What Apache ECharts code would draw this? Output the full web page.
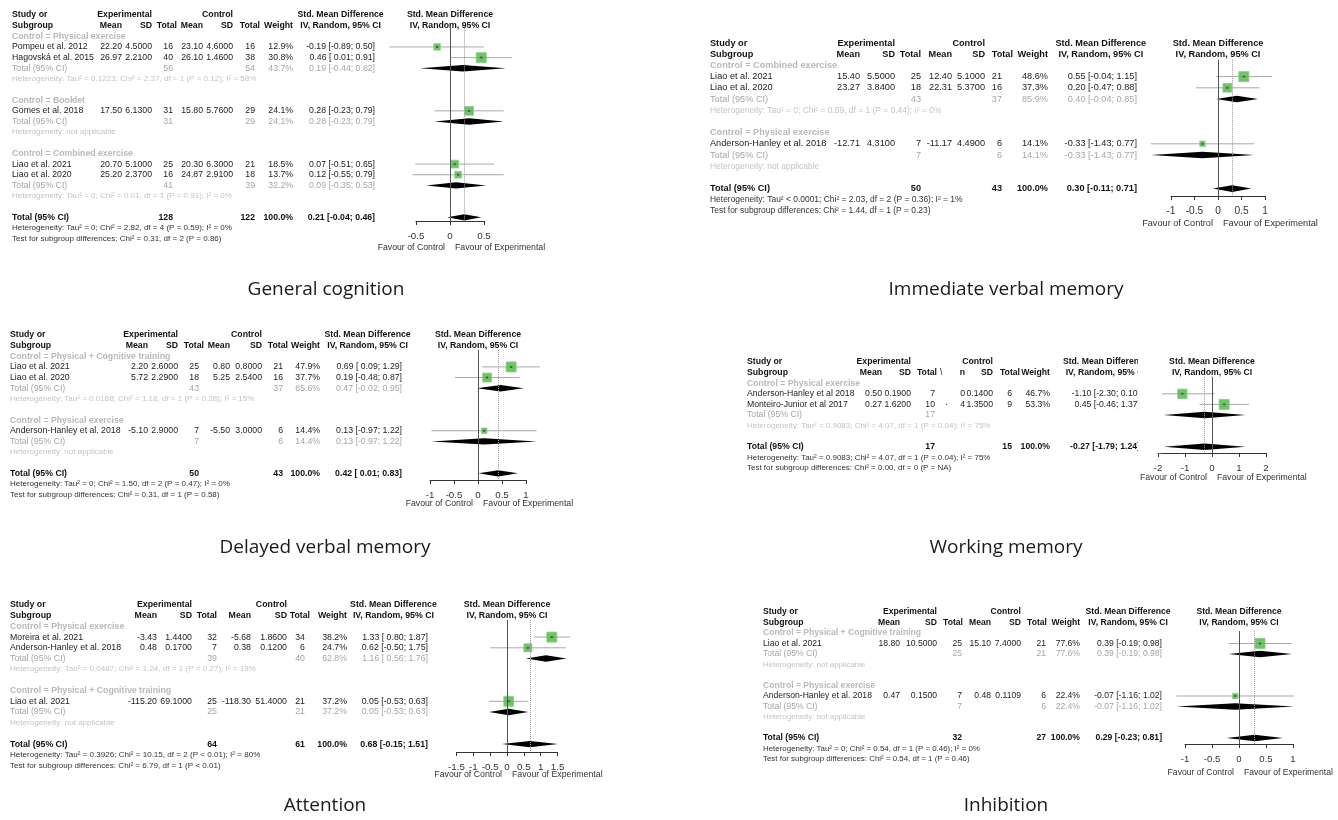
<!DOCTYPE html>
<html>
<head>
<meta charset="utf-8">
<script src="https://cdn.jsdelivr.net/npm/echarts@6/dist/echarts.min.js"></script>
<style>
html, body { margin: 0; background: #fff; }
#chart { width: 1338px; height: 820px; }
</style>
</head>
<body>
<div id="chart"></div>
<script>
// ---- General cognition
var gcGroups = ['Control = Physical exercise', 'Control = Booklet', 'Control = Combined exercise'];
var gcNames = ['Pompeu et al. 2012', 'Hagovská et al. 2015', 'Gomes et al. 2018', 'Liao et al. 2021', 'Liao et al. 2020'];
var gcGroupOf = [0, 0, 1, 2, 2];
var gcExp = [['22.20', '4.5000', 16], ['26.97', '2.2100', 40], ['17.50', '6.1300', 31], ['20.70', '5.1000', 25], ['25.20', '2.3700', 16]];
var gcCtl = [['23.10', '4.6000', 16], ['26.10', '1.4600', 38], ['15.80', '5.7600', 29], ['20.30', '6.3000', 21], ['24.87', '2.9100', 18]];
var gcWeight = [12.9, 30.8, 24.1, 18.5, 13.7];
var gcSmd = [[-0.19, -0.89, 0.50], [0.46, 0.01, 0.91], [0.28, -0.23, 0.79], [0.07, -0.51, 0.65], [0.12, -0.55, 0.79]];
var gcSub = [[56, 54, 43.7, 0.19, -0.44, 0.82], [31, 29, 24.1, 0.28, -0.23, 0.79], [41, 39, 32.2, 0.09, -0.35, 0.53]];
var gcSubHet = ['Heterogeneity: Tau² = 0.1223; Chi² = 2.37, df = 1 (P = 0.12); I² = 58%', 'Heterogeneity: not applicable', 'Heterogeneity: Tau² = 0; Chi² = 0.01, df = 1 (P = 0.91); I² = 0%'];
var gcTotal = [128, 122, 100.0, 0.21, -0.04, 0.46];
var gcNotes = ['Heterogeneity: Tau² = 0; Chi² = 2.82, df = 4 (P = 0.59); I² = 0%', 'Test for subgroup differences: Chi² = 0.31, df = 2 (P = 0.86)'];
var gcTicks = [-0.5, 0, 0.5];

// ---- Immediate verbal memory
var ivGroups = ['Control = Combined exercise', 'Control = Physical exercise'];
var ivNames = ['Liao et al. 2021', 'Liao et al. 2020', 'Anderson-Hanley et al. 2018'];
var ivGroupOf = [0, 0, 1];
var ivExp = [['15.40', '5.5000', 25], ['23.27', '3.8400', 18], ['-12.71', '4.3100', 7]];
var ivCtl = [['12.40', '5.1000', 21], ['22.31', '5.3700', 16], ['-11.17', '4.4900', 6]];
var ivWeight = [48.6, 37.3, 14.1];
var ivSmd = [[0.55, -0.04, 1.15], [0.20, -0.47, 0.88], [-0.33, -1.43, 0.77]];
var ivSub = [[43, 37, 85.9, 0.40, -0.04, 0.85], [7, 6, 14.1, -0.33, -1.43, 0.77]];
var ivSubHet = ['Heterogeneity: Tau² = 0; Chi² = 0.59, df = 1 (P = 0.44); I² = 0%', 'Heterogeneity: not applicable'];
var ivTotal = [50, 43, 100.0, 0.30, -0.11, 0.71];
var ivNotes = ['Heterogeneity: Tau² < 0.0001; Chi² = 2.03, df = 2 (P = 0.36); I² = 1%', 'Test for subgroup differences: Chi² = 1.44, df = 1 (P = 0.23)'];
var ivTicks = [-1, -0.5, 0, 0.5, 1];

// ---- Delayed verbal memory
var dvGroups = ['Control = Physical + Cognitive training', 'Control = Physical exercise'];
var dvNames = ['Liao et al. 2021', 'Liao et al. 2020', 'Anderson-Hanley et al. 2018'];
var dvGroupOf = [0, 0, 1];
var dvExp = [['2.20', '2.6000', 25], ['5.72', '2.2900', 18], ['-5.10', '2.9000', 7]];
var dvCtl = [['0.80', '0.8000', 21], ['5.25', '2.5400', 16], ['-5.50', '3.0000', 6]];
var dvWeight = [47.9, 37.7, 14.4];
var dvSmd = [[0.69, 0.09, 1.29], [0.19, -0.48, 0.87], [0.13, -0.97, 1.22]];
var dvSub = [[43, 37, 85.6, 0.47, -0.02, 0.95], [7, 6, 14.4, 0.13, -0.97, 1.22]];
var dvSubHet = ['Heterogeneity: Tau² = 0.0188; Chi² = 1.18, df = 1 (P = 0.28); I² = 15%', 'Heterogeneity: not applicable'];
var dvTotal = [50, 43, 100.0, 0.42, 0.01, 0.83];
var dvNotes = ['Heterogeneity: Tau² = 0; Chi² = 1.50, df = 2 (P = 0.47); I² = 0%', 'Test for subgroup differences: Chi² = 0.31, df = 1 (P = 0.58)'];
var dvTicks = [-1, -0.5, 0, 0.5, 1];

// ---- Working memory
var wmGroups = ['Control = Physical exercise'];
var wmNames = ['Anderson-Hanley et al 2018', 'Monteiro-Junior et al 2017'];
var wmGroupOf = [0, 0];
var wmExp = [['0.50', '0.1900', 7], ['0.27', '1.6200', 10]];
var wmCtl = [['0', '0.1400', 6], ['4', '1.3500', 9]];
var wmWeight = [46.7, 53.3];
var wmSmd = [[-1.10, -2.30, 0.10], [0.45, -0.46, 1.37]];
var wmSub = [[17, null, null, -0.27, -1.79, 1.24]];
var wmSubHet = ['Heterogeneity: Tau² = 0.9083; Chi² = 4.07, df = 1 (P = 0.04); I² = 75%'];
var wmTotal = [17, 15, 100.0, -0.27, -1.79, 1.24];
var wmNotes = ['Heterogeneity: Tau² = 0.9083; Chi² = 4.07, df = 1 (P = 0.04); I² = 75%', 'Test for subgroup differences: Chi² = 0.00, df = 0 (P = NA)'];
var wmTicks = [-2, -1, 0, 1, 2];

// ---- Attention
var atGroups = ['Control = Physical exercise', 'Control = Physical + Cognitive training'];
var atNames = ['Moreira et al. 2021', 'Anderson-Hanley et al. 2018', 'Liao et al. 2021'];
var atGroupOf = [0, 0, 1];
var atExp = [['-3.43', '1.4400', 32], ['0.48', '0.1700', 7], ['-115.20', '69.1000', 25]];
var atCtl = [['-5.68', '1.8600', 34], ['0.38', '0.1200', 6], ['-118.30', '51.4000', 21]];
var atWeight = [38.2, 24.7, 37.2];
var atSmd = [[1.33, 0.80, 1.87], [0.62, -0.50, 1.75], [0.05, -0.53, 0.63]];
var atSub = [[39, 40, 62.8, 1.16, 0.56, 1.76], [25, 21, 37.2, 0.05, -0.53, 0.63]];
var atSubHet = ['Heterogeneity: Tau² = 0.0487; Chi² = 1.24, df = 1 (P = 0.27); I² = 19%', 'Heterogeneity: not applicable'];
var atTotal = [64, 61, 100.0, 0.68, -0.15, 1.51];
var atNotes = ['Heterogeneity: Tau² = 0.3926; Chi² = 10.15, df = 2 (P < 0.01); I² = 80%', 'Test for subgroup differences: Chi² = 6.79, df = 1 (P < 0.01)'];
var atTicks = [-1.5, -1, -0.5, 0, 0.5, 1, 1.5];

// ---- Inhibition
var ihGroups = ['Control = Physical + Cognitive training', 'Control = Physical exercise'];
var ihNames = ['Liao et al. 2021', 'Anderson-Hanley et al. 2018'];
var ihGroupOf = [0, 1];
var ihExp = [['18.80', '10.5000', 25], ['0.47', '0.1500', 7]];
var ihCtl = [['15.10', '7.4000', 21], ['0.48', '0.1109', 6]];
var ihWeight = [77.6, 22.4];
var ihSmd = [[0.39, -0.19, 0.98], [-0.07, -1.16, 1.02]];
var ihSub = [[25, 21, 77.6, 0.39, -0.19, 0.98], [7, 6, 22.4, -0.07, -1.16, 1.02]];
var ihSubHet = ['Heterogeneity: not applicable', 'Heterogeneity: not applicable'];
var ihTotal = [32, 27, 100.0, 0.29, -0.23, 0.81];
var ihNotes = ['Heterogeneity: Tau² = 0; Chi² = 0.54, df = 1 (P = 0.46); I² = 0%', 'Test for subgroup differences: Chi² = 0.54, df = 1 (P = 0.46)'];
var ihTicks = [-1, -0.5, 0, 0.5, 1];

var panels = [
    { title: 'General cognition', groups: gcGroups, names: gcNames, groupOf: gcGroupOf, exp: gcExp, ctl: gcCtl,
      weight: gcWeight, smd: gcSmd, sub: gcSub, subHet: gcSubHet, total: gcTotal, notes: gcNotes, ticks: gcTicks,
      lay: { y0: 15, rh: 10.65, x0: 12, mE: 122, sE: 152, nE: 173, nEh: 177, mC: 203, sC: 233, nC: 255, nCh: 260, w: 293, ci: 375,
             zero: 450, unit: 68, rowTop: 1.25, axisRow: 19.35, favY: 248, cap: [326, 290] } },
    { title: 'Immediate verbal memory', groups: ivGroups, names: ivNames, groupOf: ivGroupOf, exp: ivExp, ctl: ivCtl,
      weight: ivWeight, smd: ivSmd, sub: ivSub, subHet: ivSubHet, total: ivTotal, notes: ivNotes, ticks: ivTicks,
      lay: { y0: 43, rh: 11.2, x0: 710, mE: 860, sE: 895, nE: 921, nEh: 921, mC: 952, sC: 985, nC: 1002, nCh: 1013, w: 1048, ci: 1137,
             zero: 1218, unit: 47, rowTop: 1.5, axisRow: 13.66, favY: 223, cap: [1006, 290] } },
    { title: 'Delayed verbal memory', groups: dvGroups, names: dvNames, groupOf: dvGroupOf, exp: dvExp, ctl: dvCtl,
      weight: dvWeight, smd: dvSmd, sub: dvSub, subHet: dvSubHet, total: dvTotal, notes: dvNotes, ticks: dvTicks,
      lay: { y0: 335, rh: 10.64, x0: 10, mE: 148, sE: 178, nE: 199, nEh: 204, mC: 230, sC: 262, nC: 283, nCh: 288, w: 320, ci: 402,
             zero: 478, unit: 48, rowTop: 1.4, axisRow: 13.63, favY: 504, cap: [325, 548] } },
    { title: 'Working memory', groups: wmGroups, names: wmNames, groupOf: wmGroupOf, exp: wmExp, ctl: wmCtl,
      weight: wmWeight, smd: wmSmd, sub: wmSub, subHet: wmSubHet, total: wmTotal, notes: wmNotes, ticks: wmTicks,
      lay: { y0: 362, rh: 10.6, x0: 747, mE: 882, sE: 911, nE: 935, nEh: 937, mC: 965, sC: 993, nC: 1012, nCh: 1020, w: 1050, ci: 1140,
             zero: 1212, unit: 27, rowTop: 1.4, axisRow: 8.58, favY: 478, cap: [1006, 548],
             ctlMeanHdr: 'n', extra: [[940, 1, '\\'], [945, 4, '·']], clipX: 1138 } },
    { title: 'Attention', groups: atGroups, names: atNames, groupOf: atGroupOf, exp: atExp, ctl: atCtl,
      weight: atWeight, smd: atSmd, sub: atSub, subHet: atSubHet, total: atTotal, notes: atNotes, ticks: atTicks,
      lay: { y0: 605, rh: 10.7, x0: 10, mE: 157, sE: 192, nE: 217, nEh: 217, mC: 251, sC: 287, nC: 305, nCh: 310, w: 347, ci: 428,
             zero: 507, unit: 33.7, rowTop: 1.4, axisRow: 13.74, favY: 775, cap: [325, 806] } },
    { title: 'Inhibition', groups: ihGroups, names: ihNames, groupOf: ihGroupOf, exp: ihExp, ctl: ihCtl,
      weight: ihWeight, smd: ihSmd, sub: ihSub, subHet: ihSubHet, total: ihTotal, notes: ihNotes, ticks: ihTicks,
      lay: { y0: 612, rh: 10.5, x0: 763, mE: 900, sE: 937, nE: 962, nEh: 963, mC: 991, sC: 1021, nC: 1046, nCh: 1047, w: 1080, ci: 1162,
             zero: 1239, unit: 54, rowTop: 1.8, axisRow: 12.57, favY: 773, cap: [1006, 806] } }
];

var FONT = '"Liberation Sans", Arial, sans-serif';
var DARK = '#111', TXT = '#222', GREY1 = '#b9b9b9', GREY2 = '#a6a6a6', GREY3 = '#c4c4c4';
var SQUARE = '#4fb148';

var ctx2d = document.createElement('canvas').getContext('2d');
var measure = function (t, f) { ctx2d.font = f; return ctx2d.measureText(t).width; };

var ciText = function (e, l, h) {
    return e.toFixed(2) + ' [' + (l >= 0 ? ' ' : '') + l.toFixed(2) + '; ' + h.toFixed(2) + ']';
};

var txt = function (x, y, s, align, font, color) {
    return {
        type: 'text', x: x, y: y, silent: true, z: 10,
        style: { text: s, font: font, fill: color, align: align, verticalAlign: 'middle',
                 textAlign: align, textVerticalAlign: 'middle' }
    };
};

var graphics = [], grids = [], xAxes = [], yAxes = [], series = [];

panels.forEach(function (p, k) {
    var L = p.lay;
    var fs = +(L.rh * 0.82).toFixed(2);
    var fB = 'bold ' + fs + 'px ' + FONT, fN = fs + 'px ' + FONT, fSm = (fs * 0.92).toFixed(2) + 'px ' + FONT;
    var Y = function (r) { return L.y0 + r * L.rh; };
    var add = function (x, r, s, al, f, col) { graphics.push(txt(x, Y(r), s, al, f, col)); };

    // table header
    var ciC = L.ci - measure('-0.00 [-0.00; 0.00]', fN) / 2;
    add(L.x0, 0, 'Study or', 'left', fB, DARK);
    add(L.x0, 1, 'Subgroup', 'left', fB, DARK);
    add(L.sE, 0, 'Experimental', 'right', fB, DARK);
    add(L.sC, 0, 'Control', 'right', fB, DARK);
    add(L.mE, 1, 'Mean', 'right', fB, DARK);
    add(L.sE, 1, 'SD', 'right', fB, DARK);
    add(L.nEh, 1, 'Total', 'right', fB, DARK);
    add(L.mC, 1, L.ctlMeanHdr || 'Mean', 'right', fB, DARK);
    add(L.sC, 1, 'SD', 'right', fB, DARK);
    add(L.nCh, 1, 'Total', 'right', fB, DARK);
    add(L.w, 1, 'Weight', 'right', fB, DARK);
    add(ciC, 0, 'Std. Mean Difference', 'center', fB, DARK);
    add(ciC, 1, 'IV, Random, 95% CI', 'center', fB, DARK);
    add(L.zero, 0, 'Std. Mean Difference', 'center', fB, DARK);
    add(L.zero, 1, 'IV, Random, 95% CI', 'center', fB, DARK);

    // table body
    var r = 2, studyRow = [], subRow = [];
    p.groups.forEach(function (gname, gi) {
        add(L.x0, r++, gname, 'left', fB, GREY1);
        p.groupOf.forEach(function (gg, i) {
            if (gg !== gi) return;
            studyRow[i] = r;
            add(L.x0, r, p.names[i], 'left', fN, TXT);
            add(L.mE, r, p.exp[i][0], 'right', fN, TXT);
            add(L.sE, r, p.exp[i][1], 'right', fN, TXT);
            add(L.nE, r, String(p.exp[i][2]), 'right', fN, TXT);
            add(L.mC, r, p.ctl[i][0], 'right', fN, TXT);
            add(L.sC, r, p.ctl[i][1], 'right', fN, TXT);
            add(L.nC, r, String(p.ctl[i][2]), 'right', fN, TXT);
            add(L.w, r, p.weight[i].toFixed(1) + '%', 'right', fN, TXT);
            add(L.ci, r, ciText(p.smd[i][0], p.smd[i][1], p.smd[i][2]), 'right', fN, TXT);
            r++;
        });
        var s = p.sub[gi];
        subRow[gi] = r;
        add(L.x0, r, 'Total (95% CI)', 'left', fN, GREY2);
        add(L.nE, r, String(s[0]), 'right', fN, GREY2);
        if (s[1] != null) {
            add(L.nC, r, String(s[1]), 'right', fN, GREY2);
            add(L.w, r, s[2].toFixed(1) + '%', 'right', fN, GREY2);
            add(L.ci, r, ciText(s[3], s[4], s[5]), 'right', fN, GREY2);
        }
        r++;
        add(L.x0, r++, p.subHet[gi], 'left', fSm, GREY3);
        r++;
    });
    var totalRow = r, t = p.total;
    add(L.x0, r, 'Total (95% CI)', 'left', fB, DARK);
    add(L.nE, r, String(t[0]), 'right', fB, DARK);
    add(L.nC, r, String(t[1]), 'right', fB, DARK);
    add(L.w, r, t[2].toFixed(1) + '%', 'right', fB, DARK);
    add(L.ci, r, ciText(t[3], t[4], t[5]), 'right', fB, DARK);
    add(L.x0, r + 1, p.notes[0], 'left', fSm, '#333');
    add(L.x0, r + 2, p.notes[1], 'left', fSm, '#333');
    (L.extra || []).forEach(function (e) { add(e[0], e[1], e[2], 'left', fN, TXT); });

    if (L.clipX) {
        graphics.push({ type: 'rect', silent: true, z: 11,
            shape: { x: L.clipX, y: Y(0) - 8, width: 24, height: (totalRow + 0.6) * L.rh + 8 },
            style: { fill: '#fff' } });
    }

    // favour labels + caption
    graphics.push(txt(L.zero - 5, L.favY, 'Favour of Control', 'right', fN, '#333'));
    graphics.push(txt(L.zero + 5, L.favY, 'Favour of Experimental', 'left', fN, '#333'));
    graphics.push(txt(L.cap[0], L.cap[1], p.title, 'center', '19px "Open Sans", ' + FONT, '#1a1a1a'));

    // plot area
    var tk = p.ticks, tMin = tk[0], tMax = tk[tk.length - 1];
    grids.push({
        left: L.zero + tMin * L.unit, width: (tMax - tMin) * L.unit,
        top: Y(L.rowTop), height: (L.axisRow - L.rowTop) * L.rh
    });
    xAxes.push({
        gridIndex: k, type: 'value', min: tMin, max: tMax, interval: tk[1] - tk[0],
        axisLine: { lineStyle: { color: '#333', width: 1 } },
        axisTick: { length: 4, lineStyle: { color: '#333' } },
        axisLabel: { fontSize: fs + 1, color: '#333', margin: 10, fontFamily: FONT },
        splitLine: { show: false }
    });
    yAxes.push({ gridIndex: k, type: 'value', inverse: true, min: L.rowTop, max: L.axisRow, show: false });

    var maxW = Math.max.apply(null, p.weight);
    series.push({
        type: 'custom', xAxisIndex: k, yAxisIndex: k, clip: false, silent: true, z: 2,
        data: p.smd.map(function (s, i) { return [s[1], studyRow[i], s[2]]; }),
        renderItem: function (params, api) {
            var a = api.coord([api.value(0), api.value(1)]);
            var b = api.coord([api.value(2), api.value(1)]);
            return { type: 'line', shape: { x1: a[0], y1: a[1], x2: b[0], y2: b[1] },
                     style: { stroke: '#a9a9a9', lineWidth: 1 } };
        }
    });
    series.push({
        type: 'scatter', xAxisIndex: k, yAxisIndex: k, symbol: 'rect', silent: true, z: 3,
        data: p.smd.map(function (s, i) {
            return { value: [s[0], studyRow[i]], symbolSize: 10 * Math.sqrt(p.weight[i] / maxW) };
        }),
        itemStyle: { color: SQUARE, borderColor: '#86cf7f', borderWidth: 1 },
        markLine: {
            silent: true, symbol: ['none', 'none'], label: { show: false }, animation: false,
            data: [
                { xAxis: 0, lineStyle: { color: '#555', type: 'solid', width: 1 } },
                { xAxis: t[3], lineStyle: { color: '#9a9a9a', type: 'dotted', width: 1 } }
            ]
        }
    });
    series.push({
        type: 'scatter', xAxisIndex: k, yAxisIndex: k, symbol: 'rect', symbolSize: 2, silent: true, z: 4,
        data: p.smd.map(function (s, i) { return [s[0], studyRow[i]]; }),
        itemStyle: { color: '#1f5a1c' }
    });
    var dia = p.sub.map(function (s, g) { return [s[4], subRow[g], s[5], s[3]]; });
    dia.push([t[4], totalRow, t[5], t[3]]);
    series.push({
        type: 'custom', xAxisIndex: k, yAxisIndex: k, clip: false, silent: true, z: 3,
        data: dia,
        renderItem: function (params, api) {
            var row = api.value(1), h = 0.3;
            var pts = [
                api.coord([api.value(0), row]), api.coord([api.value(3), row - h]),
                api.coord([api.value(2), row]), api.coord([api.value(3), row + h])
            ];
            return { type: 'polygon', shape: { points: pts }, style: { fill: '#000' } };
        }
    });
});

var chart = echarts.init(document.getElementById('chart'));
chart.setOption({
    animation: false,
    backgroundColor: '#fff',
    textStyle: { fontFamily: FONT },
    grid: grids,
    xAxis: xAxes,
    yAxis: yAxes,
    series: series,
    graphic: { elements: graphics }
});
</script>
</body>
</html>
